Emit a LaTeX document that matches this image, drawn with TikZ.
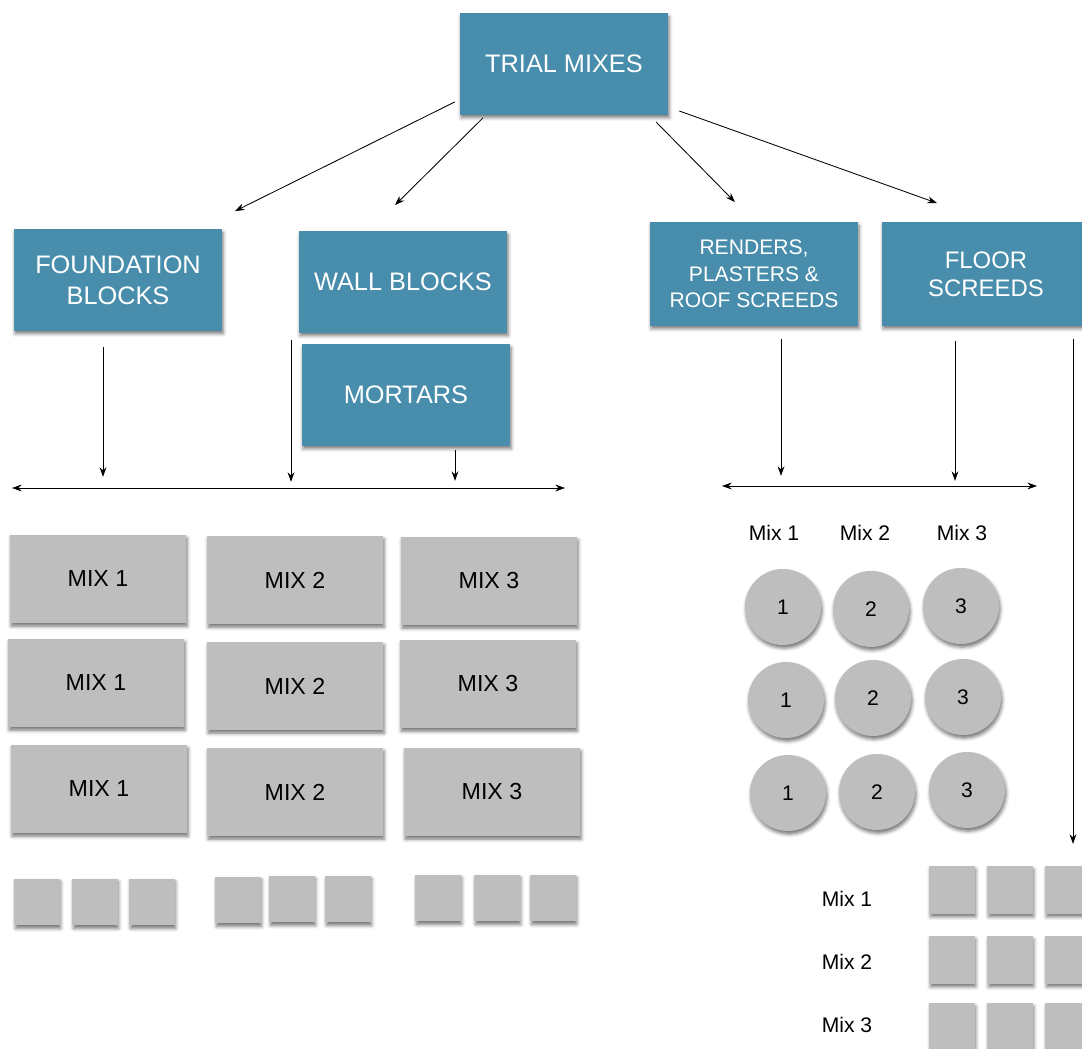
\documentclass[tikz,border=0pt]{standalone}
\usepackage{fontspec}
\setmainfont{Liberation Sans}
\usetikzlibrary{calc,positioning,arrows.meta,shadows.blur}
\definecolor{blue1}{RGB}{72,142,172}
\definecolor{gray1}{RGB}{190,190,190}

\tikzset{
  shad/.style={blur shadow={shadow xshift=0.8pt, shadow yshift=-2.2pt, shadow blur radius=2.5pt, shadow opacity=55}},
  bluebox/.style={shad, fill=blue1, text=white, align=center, inner sep=0pt,
    minimum width=5.2cm, minimum height=2.53cm, font=\fontsize{18}{22}\selectfont},
  mixbox/.style={shad, fill=gray1, inner sep=0pt, minimum width=4.4cm, minimum height=2.2cm,
    font=\fontsize{16.5}{20}\selectfont},
  sq/.style={shad, fill=gray1, inner sep=0pt, minimum width=1.13cm, minimum height=1.16cm},
  disc/.style={shad, circle, fill=gray1, inner sep=0pt, minimum size=1.9cm, font=\fontsize{15}{18}\selectfont},
  lab/.style={font=\fontsize{15}{18}\selectfont},
  arr/.style={line width=0.6pt, -{Stealth[length=2.4mm,width=1.7mm]}},
  darr/.style={line width=0.6pt, {Stealth[length=2.4mm,width=1.7mm]}-{Stealth[length=2.4mm,width=1.7mm]}}
}

\begin{document}
\begin{tikzpicture}[x=0.025cm, y=-0.025cm]
\clip (0,0) rectangle (1082,1049);

% ----- top row: blue boxes -----
\node[bluebox] (trial) at (564,64) {TRIAL MIXES};
\node[bluebox] (found) at (118,280) {FOUNDATION\\BLOCKS};
\node[bluebox] (wall) at (403,282) {WALL BLOCKS};
\node[bluebox] (mort) at (406,395) {MORTARS};
\node[bluebox, font=\fontsize{15}{19}\selectfont, minimum height=2.58cm] (rend) at (754,274) {RENDERS,\\PLASTERS \&\\ROOF SCREEDS};
\node[bluebox, font=\fontsize{17}{20}\selectfont, minimum height=2.58cm] (floor) at (986,274) {FLOOR\\SCREEDS};

% ----- arrows out of trial mixes -----
\draw[arr] ($(trial.west)+(-5,38)$) -- ($(found.north)+(117,-18)$);
\draw[arr] ($(trial.south)+(-81,3)$) -- ($(wall.north)+(-8,-26)$);
\draw[arr] ($(trial.south)+(92,7)$) -- ($(rend.north)+(-19,-20)$);
\draw[arr] ($(trial.east)+(11,47)$) -- ($(floor.north)+(-49,-19)$);

% ----- left branch -----
\coordinate (lL) at (12,488);
\coordinate (lR) at (565,488);
\draw[darr] (lL) -- (lR);
\draw[arr] ($(found.south)+(-15,16)$) -- ($(found.south)+(-15,146)$);
\draw[arr] ($(wall.south)+(-112,7)$) -- ($(wall.south)+(-112,149)$);
\draw[arr] ($(mort.south)+(49,4)$) -- ($(mort.south)+(49,35)$);

% ----- right branch -----
\coordinate (rL) at (722,486);
\coordinate (rR) at (1037,486);
\draw[darr] (rL) -- (rR);
\draw[arr] ($(rend.south)+(27,13)$) -- ($(rend.south)+(27,150)$);
\draw[arr] ($(floor.south)+(-31,15)$) -- ($(floor.south)+(-31,155)$);
\draw[arr] ($(floor.south)+(87,13)$) -- ($(floor.south)+(87,518)$);

% ----- mix blocks -----
\foreach \x/\y/\t/\n in {98/579/1/a1, 295/580/2/a2, 489/581/3/a3,
                         96/683/1/b1, 295/686/2/b2, 488/684/3/b3,
                         99/789/1/c1, 295/792/2/c2, 492/792/3/c3}
  \node[mixbox] (m\n) at (\x,\y) {MIX \t};

% small cubes
\foreach \x/\y/\n in {37/902/1, 95/902/2, 152/902/3,
                      238/900/4, 292/899/5, 348/899/6,
                      438/898/7, 497/898/8, 553/898/9}
  \node[sq] (cube\n) at (\x,\y) {};

% ----- discs -----
\node[lab] (dh1) at (774,533) {Mix 1};
\node[lab] (dh2) at (865,533) {Mix 2};
\node[lab] (dh3) at (962,533) {Mix 3};
\foreach \x/\y/\t/\n in {783/607/1/a1, 871/609/2/a2, 961/606/3/a3,
                         786/700/1/b1, 873/698/2/b2, 963/697/3/b3,
                         788/793/1/c1, 877/792/2/c2, 967/790/3/c3}
  \node[disc] (d\n) at (\x,\y) {\t};

% ----- floor screed tiles -----
\foreach \y/\ly/\t in {890/899/1, 960/962/2, 1027/1025/3} {
  \node[lab] (tl\t) at (847,\ly) {Mix \t};
  \foreach \x/\n in {952/1, 1010/2, 1068/3}
    \node[sq, minimum height=1.19cm] (tile\t\n) at (\x,\y) {};
}

\end{tikzpicture}
\end{document}
